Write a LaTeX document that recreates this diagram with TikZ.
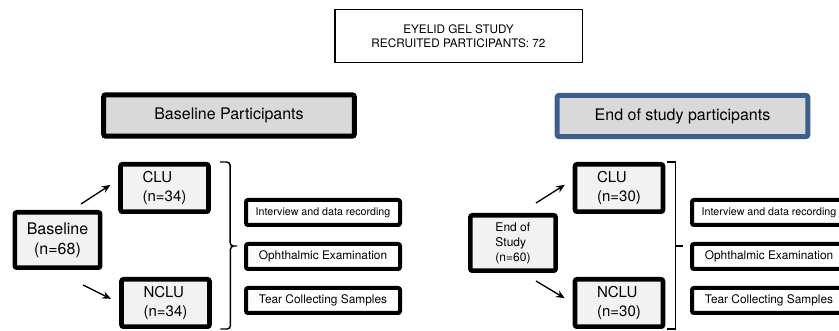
\documentclass[tikz,border=0pt]{standalone}
\usepackage{fontspec}
\setmainfont{TeX Gyre Heros}
\usetikzlibrary{positioning, arrows.meta}
\definecolor{partgray}{RGB}{217,217,217}
\definecolor{armgray}{RGB}{242,242,242}
\definecolor{studyblue}{RGB}{58,95,140}
\tikzset {
    >={Stealth[length=6.5pt, width=5.5pt]},
    node distance=11.25pt,
    title/.style={draw, line width=1.1pt, minimum width=185.6pt, minimum height=39.4pt, align=center, font=\fontsize{8.8}{10.5}\selectfont},
    phase/.style={draw, line width=3.75pt, rounded corners=1.5pt, fill=partgray, minimum width=188pt, minimum height=31pt, font=\fontsize{12}{14}\selectfont},
    group/.style={draw, line width=3.4pt, rounded corners=1.5pt, fill=armgray, minimum width=64pt, minimum height=41.6pt, inner sep=0pt},
    arm/.style={draw, line width=3.4pt, rounded corners=1.5pt, fill=armgray, minimum width=66pt, minimum height=35.6pt, align=left, font=\fontsize{11.25}{14.25}\selectfont},
    task/.style={draw, line width=3pt, rounded corners=1.5pt, fill=white, minimum width=115.5pt, minimum height=18.75pt, inner sep=0pt, font=\fontsize{8.9}{10}\selectfont},
    flow/.style={->, line width=1pt, shorten >=7pt},
    bracepath/.style={line width=1.1pt}
}

\begin{document}
\begin{tikzpicture}[x=0.75pt, y=-0.75pt]
                        \useasboundingbox (0,0) rectangle (839,331);
                        \clip (0,0) rectangle (839,331);

                        \node[title] (study) at (458.5,36) {EYELID GEL STUDY\\RECRUITED PARTICIPANTS: 72};
                        \node[phase] (basepart) at (229,115.5) {Baseline Participants};
                        \node[phase, draw=studyblue] (endpart) at (682.5,116) {End of study participants};

                        \node[group, align=center, font=\fontsize{12}{15}\selectfont] (base) at (57.5,240) {Baseline\\(n=68)};
                        \node[arm] (clu1) at (164.5,188) {CLU\\(n=34)};
                        \node[arm] (nclu1) at (165.5,303) {NCLU\\(n=34)};
                        \node[task, font=\fontsize{8}{10}\selectfont] (intv1) at (323,212.5) {Interview and data recording};
                        \node[task, below=of intv1] (ophth1) {Ophthalmic Examination};
                        \node[task, below=of ophth1] (tear1) {Tear Collecting Samples};

                        \node[group, align=left, font=\fontsize{9}{11.25}\selectfont] (endst) at (513,243) {End of\\Study\\(n=60)};
                        \node[arm] (clu2) at (619,188) {CLU\\(n=30)};
                        \node[arm] (nclu2) at (619,303) {NCLU\\(n=30)};
                        \node[task, font=\fontsize{8}{10}\selectfont] (intv2) at (769,212.5) {Interview and data recording};
                        \node[task, below=of intv2] (ophth2) {Ophthalmic Examination};
                        \node[task, below=of ophth2] (tear2) {Tear Collecting Samples};

                        \coordinate (up1) at (81,204);
                        \coordinate (dn1) at (83,285);
                        \coordinate (up2) at (536,203);
                        \coordinate (dn2) at (536,281);
                        \coordinate (tick1) at (237,246);
                        \coordinate (tick2) at (683,246);

                        \draw[flow] (up1) -- (clu1.170);
                        \draw[flow] (dn1) -- (nclu1.west);
                        \draw[flow] (up2) -- (clu2.170);
                        \draw[flow] (dn2) -- (nclu2.west);

                        \draw[bracepath, rounded corners=2.5pt]
                        ([xshift=7pt]clu1.north east) -- ++(10,0) |- (tick1)
                        ([xshift=6.5pt]nclu1.south east) -- ++(10,0) |- (tick1);
                        \draw[bracepath]
                        ([xshift=1.5pt]clu2.north east) -- ++(8,0) |- (tick2)
                        ([xshift=1.5pt]nclu2.south east) -- ++(8,0) |- (tick2);
                    \end{tikzpicture}
\end{document}
